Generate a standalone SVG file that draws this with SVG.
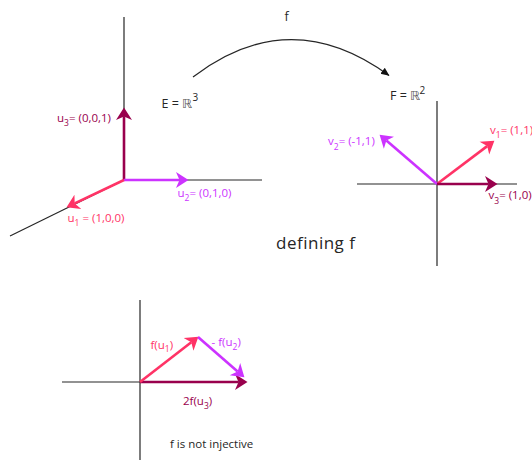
<svg xmlns="http://www.w3.org/2000/svg" width="532" height="460" viewBox="0 0 532 460">
<style>
text{font-family:"Open Sans","Liberation Sans",sans-serif;font-size:11.5px}
.ax{stroke:#262626;stroke-width:1.2;fill:none}
.v{stroke-width:2.6;fill:none}
.r{stroke:#ff3366}.rt{fill:#ff3366}
.m{stroke:#cc33ff}.mt{fill:#cc33ff}
.d{stroke:#99004d}.dt{fill:#99004d}
.k{fill:#262626}
.sub{font-size:8.5px}
.big{font-size:12.5px}
.sup{font-size:10px}
.bb{font-family:"DejaVu Sans",sans-serif;fill:#555}
.cap{font-size:17px;letter-spacing:0.5px}
</style>
<defs>
<marker id="ahr" markerUnits="userSpaceOnUse" viewBox="0 -9 14 18" markerWidth="14" markerHeight="18" refX="3.5" refY="0" orient="auto"><path d="M0,-8 L12.5,0 L0,8 L3.5,0 Z" fill="#ff3366"/></marker>
<marker id="ahm" markerUnits="userSpaceOnUse" viewBox="0 -9 14 18" markerWidth="14" markerHeight="18" refX="3.5" refY="0" orient="auto"><path d="M0,-8 L12.5,0 L0,8 L3.5,0 Z" fill="#cc33ff"/></marker>
<marker id="ahd" markerUnits="userSpaceOnUse" viewBox="0 -9 14 18" markerWidth="14" markerHeight="18" refX="3.5" refY="0" orient="auto"><path d="M0,-8 L12.5,0 L0,8 L3.5,0 Z" fill="#99004d"/></marker>
<marker id="ahk" markerUnits="userSpaceOnUse" viewBox="0 -5 9 10" markerWidth="9" markerHeight="10" refX="8" refY="0" orient="auto"><path d="M0,-3.8 L8.5,0 L0,3.8 Z" fill="#111"/></marker>
</defs>

<g id="space-E">
<g id="axes-E">
<line class="ax" x1="124" y1="17" x2="124" y2="180"/>
<line class="ax" x1="124" y1="180" x2="262" y2="180"/>
<line class="ax" x1="124" y1="180" x2="10" y2="236"/>
</g>
<g id="vectors-E">
<line class="v d" x1="124" y1="180" x2="124" y2="116.5" marker-end="url(#ahd)"/>
<line class="v m" x1="124" y1="180" x2="179.5" y2="180" marker-end="url(#ahm)"/>
<line class="v r" x1="124" y1="180" x2="74.7" y2="203.4" marker-end="url(#ahr)"/>
</g>
<g id="labels-E">
<text class="dt" x="57" y="121.5">u<tspan class="sub" dy="4.5">3</tspan><tspan dy="-4.5">= (0,0,1)</tspan></text>
<text class="mt" x="177.5" y="196.5">u<tspan class="sub" dy="4.5">2</tspan><tspan dy="-4.5">= (0,1,0)</tspan></text>
<text class="rt" x="67.5" y="221.5">u<tspan class="sub" dy="4.5">1</tspan><tspan dy="-4.5"> = (1,0,0)</tspan></text>
<text class="k big" x="161.5" y="107.5">E = <tspan class="bb">ℝ</tspan></text>
<text class="k sup" x="192.5" y="100.5">3</text>
</g>
</g>

<g id="map-f">
<path class="ax" d="M193,77 Q290,3 389,75.5" stroke="#111" stroke-width="1.1" marker-end="url(#ahk)"/>
<text class="k big" x="284.5" y="20.5">f</text>
</g>

<g id="space-F">
<g id="axes-F">
<line class="ax" x1="437" y1="101" x2="437" y2="266"/>
<line class="ax" x1="357" y1="184" x2="517" y2="184"/>
</g>
<g id="vectors-F">
<line class="v r" x1="437" y1="184" x2="487.2" y2="146.1" marker-end="url(#ahr)"/>
<line class="v m" x1="437" y1="184" x2="386.4" y2="140.5" marker-end="url(#ahm)"/>
<line class="v d" x1="437" y1="184" x2="488.5" y2="184" marker-end="url(#ahd)"/>
</g>
<g id="labels-F">
<text class="k big" x="390" y="100">F = <tspan class="bb">ℝ</tspan></text>
<text class="k sup" x="419.5" y="93.5">2</text>
<text class="mt" x="328" y="145">v<tspan class="sub" dy="4.5">2</tspan><tspan dy="-4.5">= (-1,1)</tspan></text>
<text class="rt" x="490" y="133.5">v<tspan class="sub" dy="4.5">1</tspan><tspan dy="-4.5">= (1,1)</tspan></text>
<text class="dt" x="488.5" y="199">v<tspan class="sub" dy="4.5">3</tspan><tspan dy="-4.5">= (1,0)</tspan></text>
</g>
</g>

<text id="caption-defining" class="k cap" x="276" y="248.5">defining f</text>

<g id="image-space">
<g id="axes-bottom">
<line class="ax" x1="140" y1="300" x2="140" y2="460"/>
<line class="ax" x1="62" y1="382" x2="240" y2="382"/>
</g>
<g id="vectors-bottom">
<line class="v d" x1="140" y1="382" x2="238.5" y2="382" marker-end="url(#ahd)"/>
<line class="v r" x1="140" y1="382" x2="191.3" y2="342.2" marker-end="url(#ahr)"/>
<line class="v m" x1="198" y1="337" x2="237.6" y2="371.4" marker-end="url(#ahm)"/>
</g>
<g id="labels-bottom">
<text class="rt" x="150.5" y="348.5">f(u<tspan class="sub" dy="3.5">1</tspan><tspan dy="-3.5">)</tspan></text>
<text class="mt" x="211.5" y="346">- f(u<tspan class="sub" dy="4">2</tspan><tspan dy="-4">)</tspan></text>
<text class="dt" x="183" y="405">2f(u<tspan class="sub" dy="3.5">3</tspan><tspan dy="-3.5">)</tspan></text>
<text class="k" x="170" y="447.5">f is not injective</text>
</g>
</g>
</svg>
